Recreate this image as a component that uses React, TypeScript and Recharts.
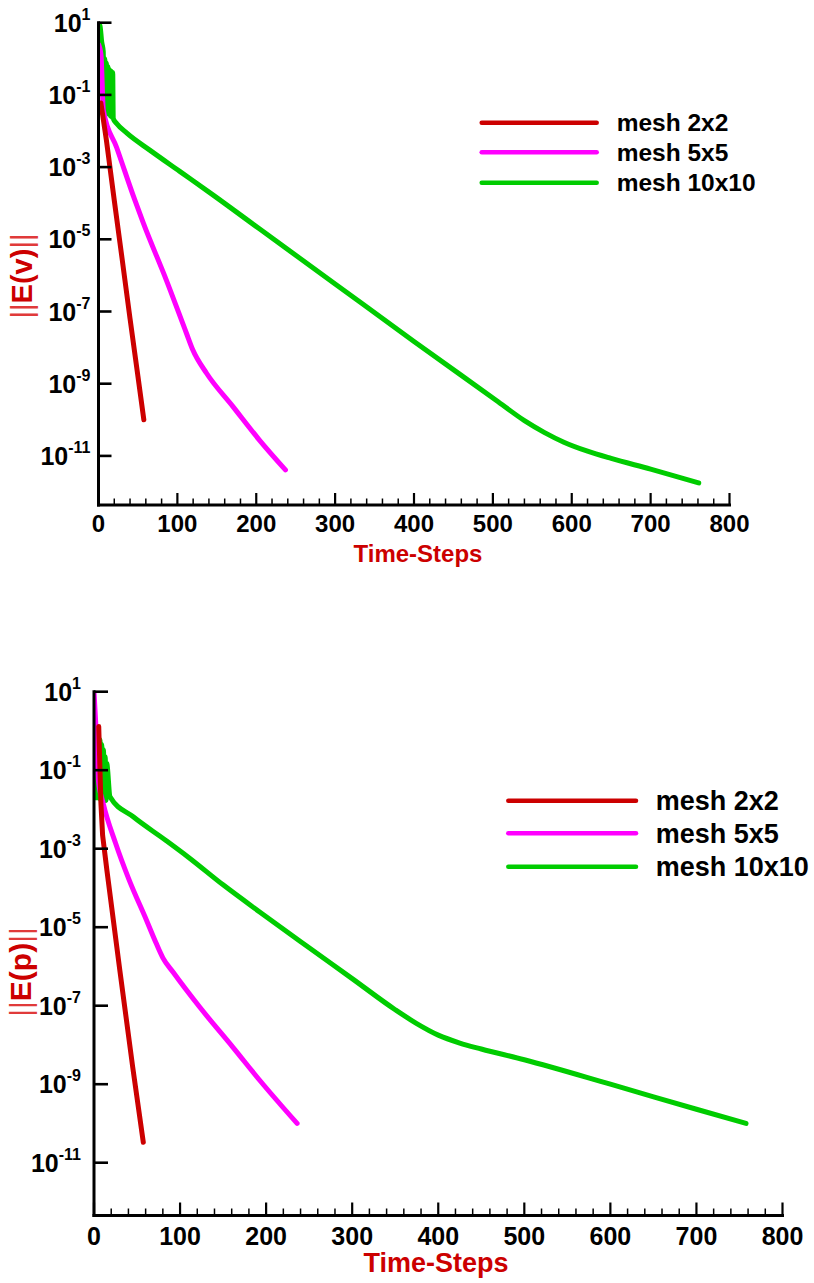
import React from 'react';
import { LineChart, Line, XAxis, YAxis } from 'recharts';

const FONT = '"Liberation Sans", Arial, Helvetica, sans-serif';
const COLORS = ['#cc0000', '#ff00ff', '#00cc00'];
const seriesNames = ['mesh 2x2', 'mesh 5x5', 'mesh 10x10'];
const xTicks = [0, 20, 40, 60, 80, 100, 120, 140, 160, 180, 200, 220, 240, 260, 280, 300, 320, 340, 360, 380, 400, 420, 440, 460, 480, 500, 520, 540, 560, 580, 600, 620, 640, 660, 680, 700, 720, 740, 760, 780, 800];
const xLabelTicks = [0, 100, 200, 300, 400, 500, 600, 700, 800];
const yTicks = [10, 1e-1, 1e-3, 1e-5, 1e-7, 1e-9, 1e-11];

type Pair = [number, number];

// ||E(v)|| panel
const vMesh2: Pair[] = [[3, 0.06], [10, 5.6e-3], [20, 1.2e-4], [30, 2.8e-6], [40, 6.3e-8], [50, 1.6e-9], [57.5, 1e-10]];
const vMesh5: Pair[] = [[0, 2.5], [3.2, 1.26], [6.1, 0.038], [23, 3.5e-3], [46, 1.23e-4], [57, 2.75e-5], [86, 7.4e-7], [111.5, 2.5e-8], [119.5, 8.7e-9], [137, 1.95e-9], [170, 2.4e-10], [204, 2.75e-11], [237, 4.1e-12]];
const vMesh10: Pair[] = [[0, 10], [2, 8], [4, 3], [6, 1.6], [7, 0.037], [8, 1.0], [9, 0.034], [10, 0.76], [11, 0.031], [12, 0.6], [13, 0.029], [14, 0.5], [15, 0.026], [16, 0.45], [17, 0.024], [18, 0.42], [18.7, 0.022], [23, 0.0162], [36, 8.7e-3], [65, 2.95e-3], [103, 7.6e-4], [145, 1.7e-4], [204, 1.95e-5], [300, 5.8e-7], [400, 1.48e-8], [504, 3.5e-10], [540, 9.5e-11], [565, 4.5e-11], [590, 2.4e-11], [620, 1.35e-11], [650, 8.5e-12], [700, 4.3e-12], [761, 1.78e-12]];

// ||E(p)|| panel
const pMesh2: Pair[] = [[5.5, 1.3], [8, 0.015], [10, 2.2e-3], [15, 2.8e-4], [30, 8e-7], [45, 2.7e-9], [57.3, 3.3e-11]];
const pMesh5: Pair[] = [[0, 10], [2.5, 1], [5, 0.056], [10.8, 0.014], [25, 1.4e-3], [40, 1.78e-4], [61, 1.5e-5], [72, 4e-6], [80, 1.66e-6], [92, 7.1e-7], [123, 9.1e-8], [161.5, 8.7e-9], [192.5, 1.26e-9], [236, 1e-10]];
const pMesh10: Pair[] = [[0, 1.3], [1, 1.2], [2, 0.02], [3, 0.95], [4, 0.02], [5, 0.75], [6, 0.019], [7, 0.6], [8, 0.018], [9, 0.45], [10, 0.018], [11, 0.33], [12, 0.017], [13, 0.22], [14, 0.017], [14.7, 0.15], [18.6, 0.021], [45.6, 6.5e-3], [84, 1.6e-3], [110, 6e-4], [150, 1.2e-4], [192.5, 2.45e-5], [250, 3e-6], [300, 4.9e-7], [350, 7.9e-8], [375, 3.5e-8], [400, 1.78e-8], [425, 1.12e-8], [450, 7.9e-9], [500, 4.2e-9], [600, 1e-9], [700, 2.3e-10], [757.6, 1e-10]];

const toPoints = (a: Pair[]) => a.map(([x, y]) => ({ x, y }));

interface PanelProps {
  top: number;
  height: number;
  margin: { top: number; right: number; bottom: number; left: number };
  yMin: number;
  series: Pair[][];
  xFont: number;
  xLabelDy: number;
  yFont: number;
  supFont: number;
  supRise: number;
  yGap: number;
  yTickLen: number;
  xMajorLen: number;
  xMinorLen: number;
}

function Panel(p: PanelProps) {
  const XTick = (props: any) => {
    const { x, y, payload } = props;
    const v = payload.value as number;
    const major = xLabelTicks.indexOf(v) >= 0;
    return (
      <g>
        <line x1={x} x2={x} y1={y} y2={y - (major ? p.xMajorLen : p.xMinorLen)} stroke="#000" strokeWidth={major ? 2.2 : 1.5} />
        {major && (
          <text x={x} y={y + p.xLabelDy} textAnchor="middle" fontFamily={FONT} fontWeight="bold" fontSize={p.xFont} fill="#000">
            {v}
          </text>
        )}
      </g>
    );
  };
  const YTick = (props: any) => {
    const { x, y, payload } = props;
    const exp = Math.round(Math.log10(payload.value));
    return (
      <g>
        <line x1={x} x2={x + p.yTickLen} y1={y} y2={y} stroke="#000" strokeWidth={2.6} />
        <text x={x - p.yGap} y={y + p.yFont * 0.36} textAnchor="end" fontFamily={FONT} fontWeight="bold" fontSize={p.yFont} fill="#000">
          <tspan>10</tspan>
          <tspan dy={-p.supRise} fontSize={p.supFont}>{String(exp)}</tspan>
        </text>
      </g>
    );
  };
  const order = [2, 1, 0];
  return (
    <div style={{ position: 'absolute', left: 0, top: p.top, width: 814, height: p.height }}>
      <LineChart width={814} height={p.height} margin={p.margin}>
        <XAxis
          type="number"
          dataKey="x"
          domain={[0, 800]}
          ticks={xTicks}
          interval={0}
          allowDataOverflow
          height={60}
          tickSize={0}
          tickMargin={0}
          tickLine={false}
          axisLine={{ stroke: '#000', strokeWidth: 3, strokeLinecap: 'square' } as any}
          tick={XTick}
        />
        <YAxis
          type="number"
          dataKey="y"
          scale="log"
          domain={[p.yMin, 10]}
          ticks={yTicks}
          interval={0}
          allowDataOverflow
          width={60}
          tickSize={0}
          tickMargin={0}
          tickLine={false}
          axisLine={{ stroke: '#000', strokeWidth: 3, strokeLinecap: 'square' } as any}
          tick={YTick}
        />
        {order.map((i) => (
          <Line
            key={seriesNames[i]}
            data={toPoints(p.series[i])}
            dataKey="y"
            name={seriesNames[i]}
            type={i === 0 ? 'linear' : 'monotone'}
            stroke={COLORS[i]}
            strokeWidth={5}
            strokeLinecap="round"
            strokeLinejoin="round"
            dot={false}
            activeDot={false}
            isAnimationActive={false}
          />
        ))}
      </LineChart>
    </div>
  );
}

function Legend({ x1, x2, tx, ys, font, dy }: { x1: number; x2: number; tx: number; ys: number[]; font: number; dy: number }) {
  return (
    <g>
      {seriesNames.map((n, i) => (
        <g key={n}>
          <line x1={x1} x2={x2} y1={ys[i]} y2={ys[i]} stroke={COLORS[i]} strokeWidth={4.5} strokeLinecap="round" />
          <text x={tx} y={ys[i] + dy} fontFamily={FONT} fontWeight="bold" fontSize={font} fill="#000">
            {n}
          </text>
        </g>
      ))}
    </g>
  );
}

function YTitle({ x, y, font, letter }: { x: number; y: number; font: number; letter: string }) {
  return (
    <text transform={`translate(${x},${y}) rotate(-90)`} textAnchor="middle" fontFamily={FONT} fontSize={font}>
      <tspan fill="#e03a3a" fontWeight="normal">||</tspan>
      <tspan fill="#cc0000" fontWeight="bold">{`E(${letter})`}</tspan>
      <tspan fill="#e03a3a" fontWeight="normal">||</tspan>
    </text>
  );
}

export default function App() {
  return (
    <div style={{ position: 'absolute', left: 0, top: 0, width: 814, height: 1283, background: '#fff' }}>
      <Panel
        top={0}
        height={600}
        margin={{ top: 22.7, right: 84.5, bottom: 35, left: 38.5 }}
        yMin={Math.pow(10, -12.36)}
        series={[vMesh2, vMesh5, vMesh10]}
        xFont={24}
        xLabelDy={27}
        yFont={25}
        supFont={16}
        supRise={12}
        yGap={8}
        yTickLen={13}
        xMajorLen={12}
        xMinorLen={6.5}
      />
      <Panel
        top={600}
        height={683}
        margin={{ top: 91.7, right: 31.5, bottom: 7.5, left: 34 }}
        yMin={Math.pow(10, -12.345)}
        series={[pMesh2, pMesh5, pMesh10]}
        xFont={25}
        xLabelDy={29.5}
        yFont={25}
        supFont={16}
        supRise={12}
        yGap={13}
        yTickLen={14}
        xMajorLen={13}
        xMinorLen={7}
      />
      <svg width={814} height={1283} style={{ position: 'absolute', left: 0, top: 0, pointerEvents: 'none' }}>
        <Legend x1={481.7} x2={596.7} tx={616.7} ys={[122.7, 152.3, 182.7]} font={24.5} dy={8.5} />
        <Legend x1={508.3} x2={636} tx={655.7} ys={[800.7, 833.3, 866.7]} font={27} dy={9.5} />
        <text x={418} y={561.7} textAnchor="middle" fontFamily={FONT} fontWeight="bold" fontSize={24} fill="#cc0000">Time-Steps</text>
        <text x={436} y={1271.7} textAnchor="middle" fontFamily={FONT} fontWeight="bold" fontSize={27} fill="#cc0000">Time-Steps</text>
        <YTitle x={32} y={276} font={29} letter="v" />
        <YTitle x={31} y={972} font={30} letter="p" />
      </svg>
    </div>
  );
}
